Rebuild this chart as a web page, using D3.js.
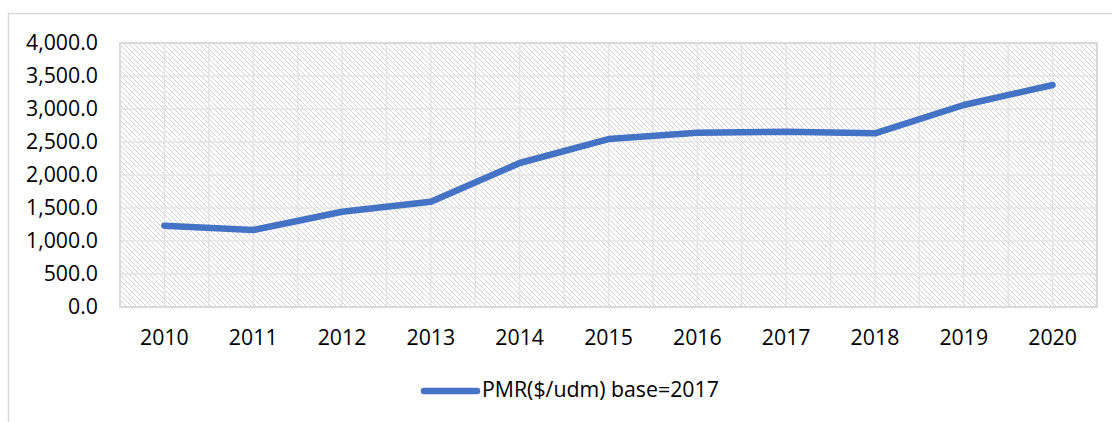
<!DOCTYPE html>
<html>
<meta charset="utf-8">
<script src="https://cdn.jsdelivr.net/npm/d3@7"></script>
<title>PMR</title>
<style>
body { margin: 0; background: #fff; }
text { font-family: "Open Sans", "Liberation Sans", sans-serif; fill: #000; }
</style>
<body>
<script type="text/javascript">

var years = ["2010","2011","2012","2013","2014","2015","2016","2017","2018","2019","2020"];
var pmr = [1232, 1167, 1444, 1595, 2182, 2545, 2641, 2656, 2632, 3061, 3364];
var yTicks = [0, 500, 1000, 1500, 2000, 2500, 3000, 3500, 4000];
var seriesName = "PMR($/udm) base=2017";

var size = { width : 1112, height : 422 };
var plot = { left : 120, right : 1097, top : 43, bottom : 307 };

var svg = d3.select("body")
    .append("svg")
    .attr("width", size.width)
    .attr("height", size.height);

// chart frame
svg.append("rect")
    .attr("x", 8.5).attr("y", 13.5)
    .attr("width", 1300).attr("height", 600)
    .style("fill", "none")
    .style("stroke", "#d9d9d9")
    .style("stroke-width", 1.5);

var defs = svg.append("defs");
defs.append("pattern")
    .attr("id", "hatch")
    .attr("patternUnits", "userSpaceOnUse")
    .attr("width", 5).attr("height", 5)
  .append("path")
    .attr("d", "M0,0 L5,5 M-1,4 L1,6 M4,-1 L6,1")
    .style("stroke", "#d2d2d2")
    .style("stroke-width", 1.1)
    .style("shape-rendering", "crispEdges");

var xScale = d3.scaleBand()
    .domain(years)
    .range([plot.left, plot.right]);
var yScale = d3.scaleLinear()
    .domain([0, 4000])
    .range([plot.bottom, plot.top]);

svg.append("rect")
    .attr("x", plot.left).attr("y", plot.top)
    .attr("width", plot.right - plot.left)
    .attr("height", plot.bottom - plot.top)
    .style("fill", "url(#hatch)");

// vertical grid at band edges and centers
var vlines = [];
years.forEach(function(y){
    vlines.push(xScale(y));
    vlines.push(xScale(y) + xScale.bandwidth() / 2);
});
svg.append("g").selectAll("line")
    .data(vlines)
    .enter().append("line")
    .attr("x1", function(d){ return d; })
    .attr("x2", function(d){ return d; })
    .attr("y1", plot.top).attr("y2", plot.bottom)
    .style("stroke", "#e3e3e3")
    .style("stroke-width", 1.5);

svg.append("g").selectAll("line")
    .data(yTicks)
    .enter().append("line")
    .attr("x1", plot.left).attr("x2", plot.right)
    .attr("y1", function(d){ return yScale(d); })
    .attr("y2", function(d){ return yScale(d); })
    .style("stroke", "#e3e3e3")
    .style("stroke-width", 1.5);

svg.append("rect")
    .attr("x", plot.left).attr("y", plot.top)
    .attr("width", plot.right - plot.left)
    .attr("height", plot.bottom - plot.top)
    .style("fill", "none")
    .style("stroke", "#d9d9d9")
    .style("stroke-width", 2);

// axes
var fmt = d3.format(",.1f");
var yAxis = svg.append("g")
    .attr("transform", "translate(" + plot.left + ",0)")
    .call(d3.axisLeft(yScale).tickValues(yTicks).tickFormat(fmt).tickSize(0).tickPadding(22));
yAxis.select(".domain").remove();
yAxis.selectAll("text").style("font-size", "21.3px");

var xAxis = svg.append("g")
    .attr("transform", "translate(0," + plot.bottom + ")")
    .call(d3.axisBottom(xScale).tickSize(0).tickPadding(23));
xAxis.select(".domain").remove();
xAxis.selectAll("text").style("font-size", "21.3px");

var line = d3.line()
    .x(function(d, i){ return xScale(years[i]) + xScale.bandwidth() / 2; })
    .y(function(d){ return yScale(d); });

svg.append("path")
    .datum(pmr)
    .attr("d", line)
    .style("fill", "none")
    .style("stroke", "#4472c4")
    .style("stroke-width", 6.5)
    .style("stroke-linecap", "round")
    .style("stroke-linejoin", "round");

// legend
var legend = svg.append("g");
legend.append("line")
    .attr("x1", 424).attr("x2", 477)
    .attr("y1", 391).attr("y2", 391)
    .style("stroke", "#4472c4")
    .style("stroke-width", 6.5)
    .style("stroke-linecap", "round");
legend.append("text")
    .attr("x", 482).attr("y", 390)
    .attr("dy", "0.35em")
    .style("font-size", "21.3px")
    .text(seriesName);

</script>
</body>
</html>
